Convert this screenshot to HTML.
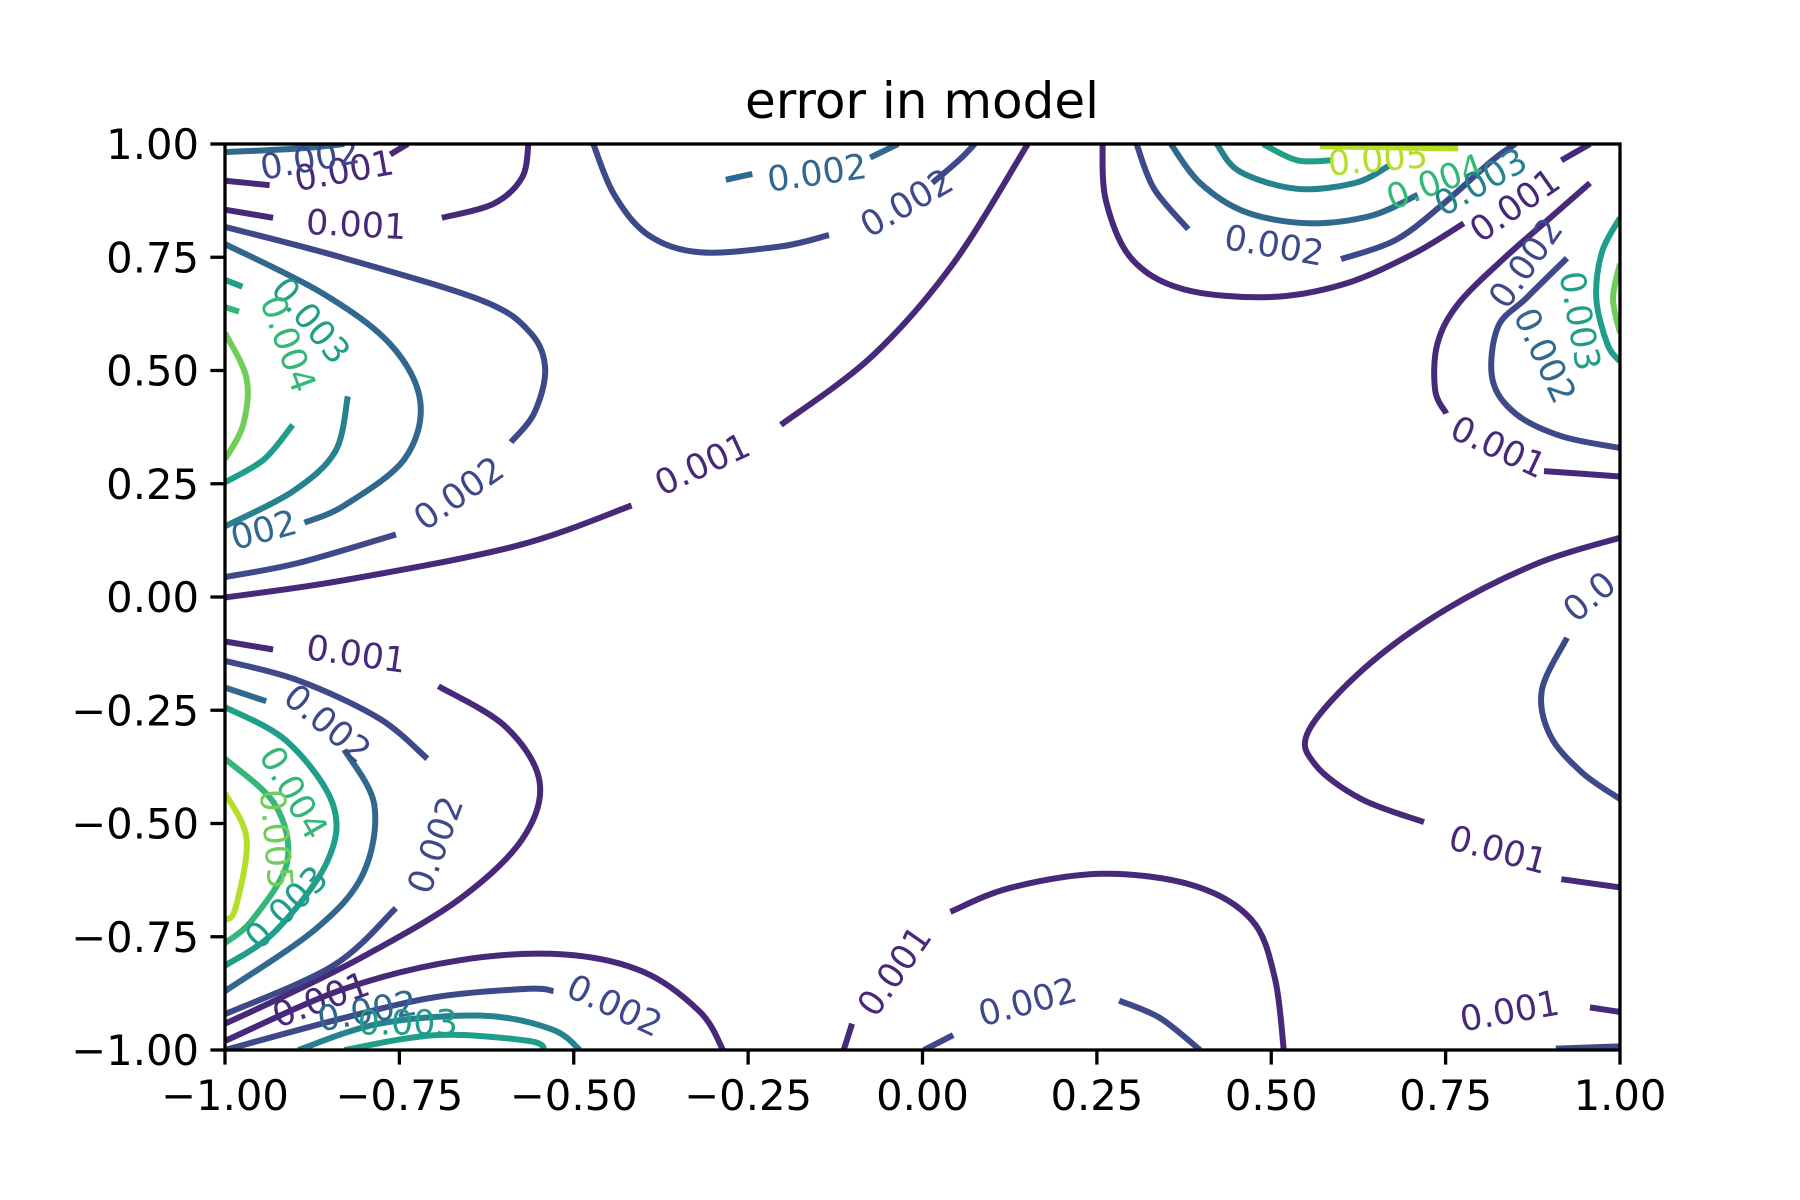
<!DOCTYPE html>
<html><head><meta charset="utf-8">
<style>
html,body{margin:0;padding:0;background:#fff;}
svg{display:block;font-family:"DejaVu Sans","Liberation Sans",sans-serif;}
</style></head>
<body>
<svg id="chart" width="1800" height="1200" viewBox="0 0 1800 1200" xmlns="http://www.w3.org/2000/svg">
<rect x="0" y="0" width="1800" height="1200" fill="#fff"/>
<text x="922" y="118" font-size="50" text-anchor="middle">error in model</text>
<defs><clipPath id="clip"><rect x="225" y="144" width="1395" height="906"/></clipPath></defs>
<g id="lines" clip-path="url(#clip)"></g>
<g id="labels" clip-path="url(#clip)"></g>
<rect x="225" y="144" width="1395" height="906" fill="none" stroke="#000" stroke-width="3.3"/>
<g id="ticks"></g>
</svg>
<script>
const xTicks = [-1, -0.75, -0.5, -0.25, 0, 0.25, 0.5, 0.75, 1];
const yTicks = [-1, -0.75, -0.5, -0.25, 0, 0.25, 0.5, 0.75, 1];
const tickLabels = ["\u22121.00","\u22120.75","\u22120.50","\u22120.25","0.00","0.25","0.50","0.75","1.00"];
const levelColors = ["#482878","#3e4989","#31688e","#26828e","#1f9e89","#35b779","#6ece58","#b5de2b"];
// contour paths: [levelIndex, [[x,y],...]] in data coordinates
const contours = [
[0,[[-1,-0.001],[-0.829,0.037],[-0.582,0.113],[-0.417,0.202]]],
[0,[[-0.203,0.380],[-0.072,0.532],[0.044,0.736],[0.151,1.0]]],
[0,[[-0.565,1],[-0.574,0.926],[-0.615,0.868],[-0.689,0.837]]],
[0,[[-1,0.855],[-0.931,0.837]]],
[0,[[-1,0.919],[-0.936,0.909]]],
[0,[[-0.738,1],[-0.763,0.977]]],
[1,[[-0.472,1],[-0.442,0.888],[-0.393,0.799],[-0.319,0.761],[-0.203,0.774],[-0.134,0.799]]],
[1,[[0.014,0.914],[0.052,0.964],[0.075,1.0]]],
[2,[[-0.282,0.921],[-0.244,0.934]]],
[2,[[-0.075,0.970],[-0.035,1]]],
[0,[[0.258,1],[0.263,0.875],[0.299,0.748],[0.373,0.680],[0.496,0.662],[0.603,0.690],[0.702,0.756],[0.776,0.825]]],
[0,[[0.916,0.964],[0.957,1]]],
[1,[[0.307,1],[0.332,0.901],[0.381,0.812]]],
[1,[[0.600,0.746],[0.677,0.787],[0.743,0.863],[0.817,0.964],[0.85,1.0]]],
[2,[[0.356,1],[0.398,0.914],[0.463,0.850],[0.554,0.825],[0.644,0.842],[0.710,0.888]]],
[3,[[0.422,1],[0.455,0.939],[0.537,0.901],[0.620,0.914],[0.669,0.952]]],
[4,[[0.488,1],[0.537,0.964],[0.587,0.964]]],
[7,[[0.570,0.995],[0.768,0.990]]],
[0,[[0.751,0.405],[0.735,0.456],[0.738,0.558],[0.768,0.647],[0.834,0.748],[0.900,0.837],[0.957,0.914]]],
[0,[[0.891,0.278],[1,0.266]]],
[1,[[1,0.329],[0.916,0.355],[0.850,0.405],[0.817,0.481],[0.825,0.596],[0.866,0.660],[0.924,0.748]]],
[4,[[1,0.837],[0.974,0.761],[0.966,0.659],[0.982,0.558],[1,0.520]]],
[6,[[1,0.736],[0.990,0.659],[1,0.583]]],
[0,[[1,0.131],[0.883,0.075],[0.751,-0.027],[0.636,-0.154],[0.554,-0.294],[0.563,-0.370],[0.629,-0.446],[0.719,-0.497]]],
[0,[[0.916,-0.623],[1,-0.641]]],
[1,[[0.924,-0.090],[0.888,-0.205],[0.900,-0.306],[0.946,-0.388],[1,-0.446]]],
[0,[[-0.113,-1],[-0.101,-0.942]]],
[0,[[0.040,-0.695],[0.126,-0.642],[0.258,-0.611],[0.389,-0.637],[0.472,-0.713],[0.505,-0.840],[0.518,-1]]],
[1,[[0.002,-1],[0.044,-0.967]]],
[1,[[0.282,-0.891],[0.340,-0.929],[0.398,-1]]],
[0,[[0.957,-0.906],[1,-0.916]]],
[1,[[0.908,-0.997],[1,-0.992]]],
[1,[[-1,0.817],[-0.829,0.748],[-0.631,0.654],[-0.562,0.583],[-0.541,0.502],[-0.557,0.405],[-0.590,0.342]]],
[1,[[-0.755,0.138],[-0.895,0.075],[-1,0.044]]],
[2,[[-1,0.779],[-0.862,0.672],[-0.763,0.558],[-0.720,0.431],[-0.743,0.304],[-0.829,0.202],[-0.886,0.164]]],
[3,[[-0.824,0.443],[-0.842,0.321],[-0.903,0.233],[-1,0.156]]],
[4,[[-0.903,0.380],[-0.944,0.304],[-1,0.253]]],
[6,[[-1,0.583],[-0.969,0.482],[-0.974,0.380],[-1,0.304]]],
[4,[[-1,0.70],[-0.975,0.685]]],
[5,[[-1,0.64],[-0.98,0.63]]],
[0,[[-1,-0.098],[-0.931,-0.116]]],
[0,[[-0.694,-0.197],[-0.598,-0.286],[-0.549,-0.408],[-0.574,-0.535],[-0.664,-0.667],[-0.796,-0.789],[-0.911,-0.878],[-1,-0.942]]],
[1,[[-1,-0.141],[-0.895,-0.184],[-0.779,-0.268],[-0.710,-0.357]]],
[1,[[-0.755,-0.687],[-0.845,-0.814],[-1,-0.921]]],
[2,[[-1,-0.200],[-0.941,-0.230]]],
[2,[[-0.829,-0.337],[-0.786,-0.459],[-0.802,-0.611],[-0.870,-0.733],[-1,-0.870]]],
[4,[[-1,-0.243],[-0.911,-0.319],[-0.845,-0.459],[-0.854,-0.586],[-0.928,-0.738],[-1,-0.814]]],
[5,[[-1,-0.357],[-0.928,-0.459],[-0.911,-0.586],[-0.961,-0.713],[-1,-0.764]]],
[7,[[-1,-0.433],[-0.969,-0.535],[-0.985,-0.687],[-1,-0.713]]],
[0,[[-1,-0.980],[-0.829,-0.865],[-0.664,-0.802],[-0.516,-0.789],[-0.401,-0.827],[-0.319,-0.916],[-0.286,-1]]],
[1,[[-1,-1],[-0.829,-0.929],[-0.697,-0.883],[-0.565,-0.865],[-0.529,-0.870]]],
[3,[[-0.895,-1],[-0.779,-0.942],[-0.631,-0.924],[-0.532,-0.954],[-0.491,-1]]],
[4,[[-0.829,-1],[-0.697,-0.967],[-0.565,-0.980],[-0.541,-1]]],
[2,[[-1,0.982],[-0.895,0.990],[-0.829,1]]]
];
const labelTexts = ["0.001","0.001","0.002","0.002","0.002","0.001","0.002","002","0.003","0.004","0.002","0.001","0.002","0.003","0.002","0.001","0.005","0.004","0.003","0.0","0.001","0.001","0.002","0.001","0.001","0.002","0.002","0.004","0.005","0.003","0.001","0.002","0.003","0.002"];
const labelX = [-0.812,-0.829,-0.878,-0.151,-0.022,-0.315,-0.664,-0.944,-0.878,-0.911,0.504,0.825,0.866,0.941,0.891,0.850,0.653,0.735,0.801,0.957,0.825,-0.039,0.151,0.842,-0.812,-0.854,-0.697,-0.903,-0.928,-0.911,-0.862,-0.796,-0.738,-0.442];
const labelY = [0.820,0.939,0.964,0.934,0.868,0.291,0.227,0.146,0.609,0.558,0.774,0.329,0.736,0.609,0.532,0.863,0.964,0.914,0.914,-0.001,-0.560,-0.827,-0.896,-0.916,-0.128,-0.281,-0.548,-0.433,-0.535,-0.687,-0.891,-0.916,-0.942,-0.904];
const labelAngle = [3,-10,-10,-8,-30,-25,-35,-15,50,70,10,25,-55,80,65,-35,-5,-20,-30,-40,15,-55,-15,-10,8,40,-70,60,85,-45,-20,-10,0,25];
const labelLevel = [0,0,1,2,1,0,1,2,4,5,1,0,1,4,2,0,7,5,3,1,0,0,1,0,0,1,1,5,6,4,0,2,4,1];

const X0=225,X1=1620,Y0=1050,Y1=144;
const sx=v=>X0+(v+1)/2*(X1-X0);
const sy=v=>Y0-(v+1)/2*(Y0-Y1);
const NS="http://www.w3.org/2000/svg";

function smoothPath(pts){
  const p=pts.map(q=>[sx(q[0]),sy(q[1])]);
  let d="M"+p[0][0].toFixed(1)+","+p[0][1].toFixed(1);
  for(let i=0;i<p.length-1;i++){
    const a=p[i-1]||p[i],b=p[i],c=p[i+1],e=p[i+2]||c;
    const c1=[b[0]+(c[0]-a[0])/6,b[1]+(c[1]-a[1])/6];
    const c2=[c[0]-(e[0]-b[0])/6,c[1]-(e[1]-b[1])/6];
    d+=" C"+c1[0].toFixed(1)+","+c1[1].toFixed(1)+" "+c2[0].toFixed(1)+","+c2[1].toFixed(1)+" "+c[0].toFixed(1)+","+c[1].toFixed(1);
  }
  return d;
}
const lg=document.getElementById("lines");
contours.forEach((c,i)=>{
  const path=document.createElementNS(NS,"path");
  path.setAttribute("d",smoothPath(c[1]));
  path.setAttribute("fill","none");
  path.setAttribute("stroke",levelColors[c[0]]);
  path.setAttribute("stroke-width","6");
  path.setAttribute("stroke-linecap","butt");
  
  
  lg.appendChild(path);
});
const lb=document.getElementById("labels");
labelTexts.forEach((t,i)=>{
  const tx=document.createElementNS(NS,"text");
  const x=sx(labelX[i]),y=sy(labelY[i]);
  tx.setAttribute("x",x);tx.setAttribute("y",y);
  tx.setAttribute("font-size","35");
  tx.setAttribute("text-anchor","middle");
  tx.setAttribute("dominant-baseline","central");
  tx.setAttribute("fill",levelColors[labelLevel[i]]);
  tx.setAttribute("transform","rotate("+(labelAngle[i])+" "+x+" "+y+")");
  tx.textContent=t;
  
  
  lb.appendChild(tx);
});
const tg=document.getElementById("ticks");
xTicks.forEach((v,i)=>{
  const x=sx(v);
  const l=document.createElementNS(NS,"line");
  l.setAttribute("x1",x);l.setAttribute("x2",x);l.setAttribute("y1",Y0);l.setAttribute("y2",Y0+14.6);
  l.setAttribute("stroke","#000");l.setAttribute("stroke-width","3.3");
  
  
  tg.appendChild(l);
  const t=document.createElementNS(NS,"text");
  t.setAttribute("x",x);t.setAttribute("y",Y0+60);
  t.setAttribute("font-size","41.7");t.setAttribute("text-anchor","middle");
  t.textContent=tickLabels[i];
  
  
  tg.appendChild(t);
});
yTicks.forEach((v,i)=>{
  const y=sy(v);
  const l=document.createElementNS(NS,"line");
  l.setAttribute("x1",X0-14.6);l.setAttribute("x2",X0);l.setAttribute("y1",y);l.setAttribute("y2",y);
  l.setAttribute("stroke","#000");l.setAttribute("stroke-width","3.3");
  
  
  tg.appendChild(l);
  const t=document.createElementNS(NS,"text");
  t.setAttribute("x",X0-26);t.setAttribute("y",y+15);
  t.setAttribute("font-size","41.7");t.setAttribute("text-anchor","end");
  t.textContent=tickLabels[i];
  
  
  tg.appendChild(t);
});
</script>
</body></html>
